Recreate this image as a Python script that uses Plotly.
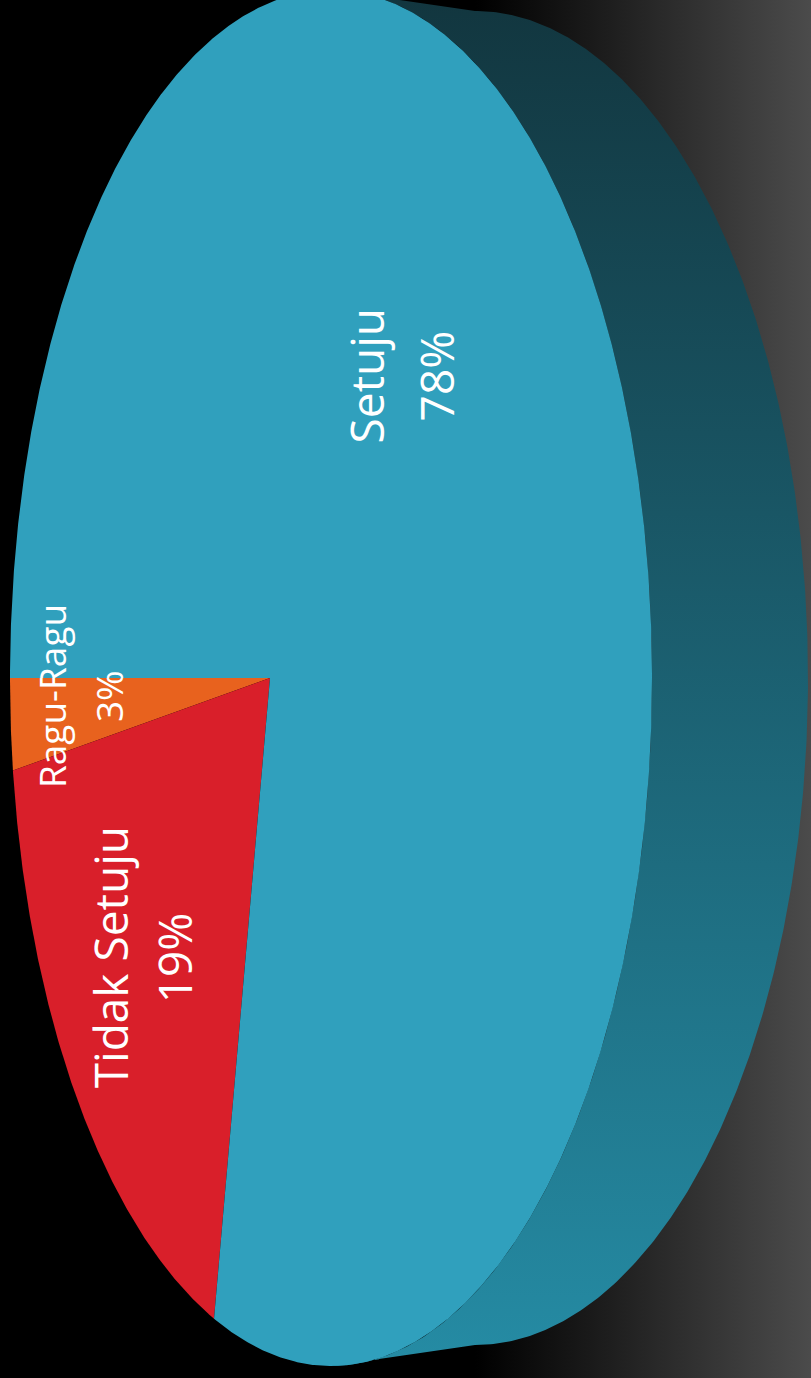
import numpy as np
import plotly.graph_objects as go

# ---- data ----
categories = ["Setuju", "Tidak Setuju", "Ragu-Ragu"]
values = [78.0, 19.4, 2.6]
colors = ["#30a0bd", "#d91f2a", "#e8621e"]

W, H = 811, 1378

# ---- perspective model of the tilted pie (top face) ----
PX, PY = 270.0, 678.0          # projected pie centre
LEFT, RIGHT = 260.0, 382.0     # extent of the face left / right of the centre
RY = 688.0                     # half height of the face
GAM = (LEFT - RIGHT) / (LEFT + RIGHT)
ALPHA = RIGHT * (1 + GAM)
DELTA = RY * np.sqrt(1 - GAM ** 2)


def face(theta_deg, k=1.0):
    t = np.radians(theta_deg)
    a, b = k * np.cos(t), k * np.sin(t)
    d = 1 + GAM * a
    return PX + ALPHA * a / d, PY + DELTA * b / d


# bottom face (seen through the side)
BCX, BCY, BRX, BRY = 475.0, 678.0, 333.0, 667.0

fig = go.Figure()

# background gradient
fig.add_trace(go.Scatter(
    x=[0, W, W, 0, 0], y=[0, 0, H, H, 0], mode="lines", line=dict(width=0),
    fill="toself", hoverinfo="skip",
    fillgradient=dict(type="horizontal", start=0, stop=W,
                      colorscale=[[0, "#000000"], [475 / W, "#000000"], [1, "#4b4b4b"]]),
))

# side of the pie
t_ext = np.degrees(np.arccos(-GAM))
th = np.linspace(-t_ext, t_ext, 400)
sx, sy = face(th)
tb = np.radians(np.linspace(90, -90, 400))
bx = BCX + BRX * np.cos(tb)
by = BCY + BRY * np.sin(tb)
side_x = np.concatenate([sx, bx, sx[:1]])
side_y = np.concatenate([sy, by, sy[:1]])
fig.add_trace(go.Scatter(
    x=side_x, y=side_y, mode="lines", line=dict(width=0), fill="toself",
    hoverinfo="skip",
    fillgradient=dict(type="vertical", start=0, stop=H,
                      colorscale=[[0, "#12363f"], [1, "#258ca5"]]),
))

# top-face slices: start at the left, Ragu-Ragu first going down
order = [2, 1, 0]
start = 180.0
mids = {}
spans = {}
for i in order:
    span = values[i] / sum(values) * 360.0
    th = np.linspace(start, start - span, max(int(span * 4), 8))
    x, y = face(th)
    fig.add_trace(go.Scatter(
        x=np.concatenate([[PX], x, [PX]]), y=np.concatenate([[PY], y, [PY]]),
        mode="lines", line=dict(width=0), fill="toself", fillcolor=colors[i],
        hoverinfo="skip", name=categories[i],
    ))
    mids[i] = start - span / 2
    start -= span

# labels
label_tune = {0: (-6.9, 0.57, 46, 70), 1: (-0.7, 0.635, 46, 64), 2: (2.2, 0.693, 37, 57)}
for i, cat in enumerate(categories):
    dth, k, fs, pitch = label_tune[i]
    lx, ly = face(mids[i] + dth, k)
    pct = f"{round(values[i] / sum(values) * 100)}%"
    for txt, off in ((cat, -pitch / 2), (pct, pitch / 2)):
        fig.add_annotation(x=float(lx + off), y=float(ly), text=txt, showarrow=False,
                           textangle=-90, xanchor="center", yanchor="middle",
                           font=dict(family="Open Sans", size=fs, color="white"))

fig.update_layout(
    width=W, height=H, margin=dict(l=0, r=0, t=0, b=0),
    paper_bgcolor="black", plot_bgcolor="black", showlegend=False,
    xaxis=dict(range=[0, W], visible=False, fixedrange=True),
    yaxis=dict(range=[H, 0], visible=False, fixedrange=True),
)
fig.write_html("out.html")
